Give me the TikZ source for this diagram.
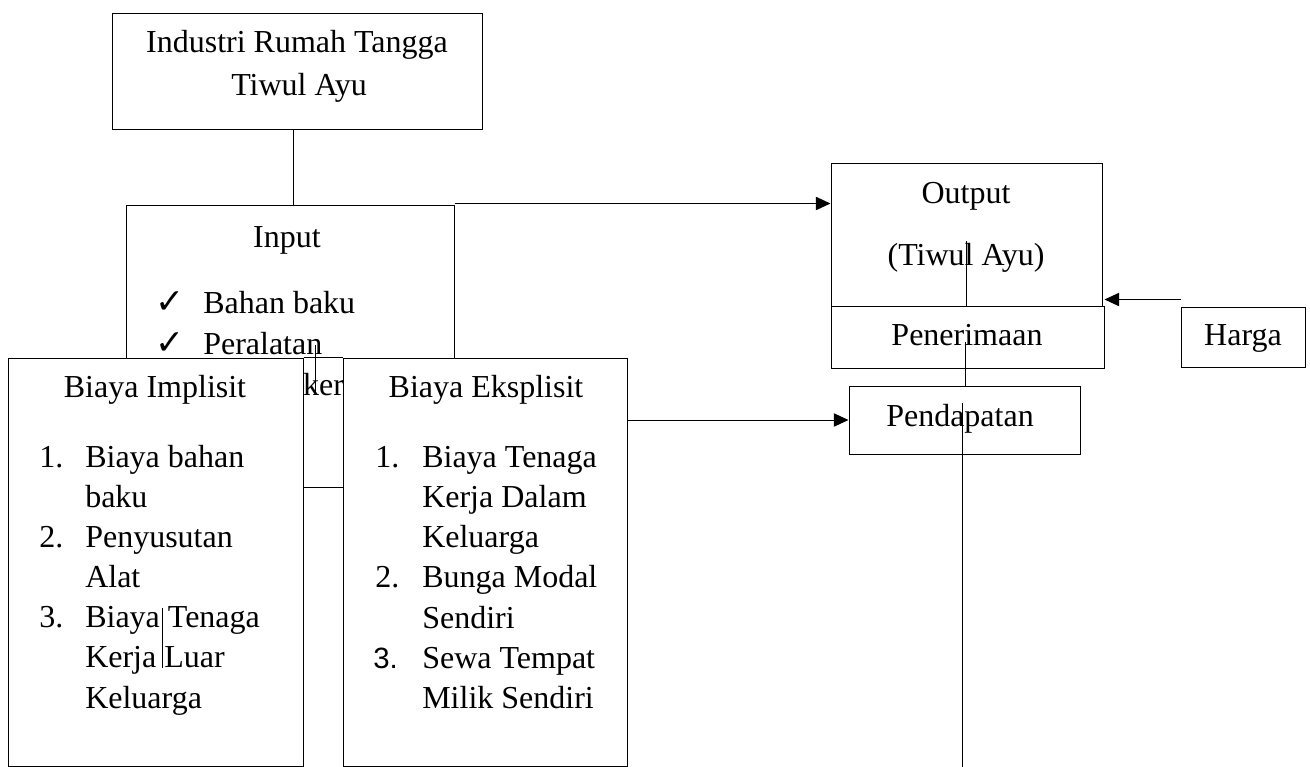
\documentclass[tikz,border=0pt]{standalone}
\usepackage{fontspec}
\setmainfont{Liberation Serif}
\newfontfamily\symfont{DejaVu Sans}
\newfontfamily\arialfont{Liberation Sans}
\usetikzlibrary{arrows.meta}
\newcommand\fs{\fontsize{24}{28}\selectfont}
\tikzset{
  pbox/.style 2 args={draw=black, line width=0.75pt, fill=white, inner sep=0pt,
     minimum width=#1*0.75pt, minimum height=#2*0.75pt},
  ln/.style={draw=black, line width=0.75pt},
  arr/.style={ln, -{Triangle[length=11pt,width=10pt]}},
  tx/.style={inner sep=0pt, font=\fs, anchor=base},
  tw/.style={inner sep=0pt, font=\fs, anchor=base west},
  ck/.style={inner sep=0pt, font=\symfont\fontsize{26}{28}\selectfont, anchor=base west},
}
\begin{document}
\begin{tikzpicture}[x=0.75pt,y=-0.75pt]
\useasboundingbox (0,0) rectangle (1310,767);

% top box
\node[pbox={370}{115}] (top) at (297,71.5) {};
\node[tx] (top1) at (297,53) {Industri Rumah Tangga};
\node[tx] (top2) at (299,95) {Tiwul Ayu};

% input box
\node[pbox={328}{282}] (input) at (290,346) {};
\node[tx] (inT) at (287,247) {Input};
\node[ck] (c1) at (155,313) {✓};
\node[ck] (c2) at (155,354) {✓};
\node[ck] (c3) at (155,395) {✓};
\node[tw] (i1) at (203,313) {Bahan baku};
\node[tw] (i2) at (203,354) {Peralatan};
\node[tw] (i3) at (203,395) {Tenaga kerja};

% output side
\node[pbox={271}{143}] (output) at (966.5,234.5) {};
\node[tx] (o1) at (966,203) {Output};
\node[tx] (o2) at (966,265) {(Tiwul Ayu)};
\node[pbox={273}{62}] (pener) at (967.5,337) {};
\node[tx] (pe) at (967,345) {Penerimaan};
\node[pbox={124}{60}] (harga) at (1243,337) {};
\node[tx] (ha) at (1243,345) {Harga};
\node[pbox={231}{68}] (pendap) at (964.5,420) {};
\node[tx] (pd) at (960,426) {Pendapatan};

% connectors
\draw[ln] ([xshift=-3pt]top.south) -- ([xshift=-3pt]top.south |- input.north);
\draw[arr] ([yshift=0.75pt]input.north east) -- ([yshift=0.75pt]input.north east -| output.west);
\draw[arr] ([yshift=5.25pt]harga.north west) -- ([yshift=5.25pt]harga.north west -| pener.east);

% stray vertical lines
\draw[ln] (966,241) -- (966,306);
\draw[ln] (965,342) -- (965,386);
\draw[ln] (962,403) -- (962,767);

% cost boxes
\node[pbox={295}{408}] (impl) at (155.5,562) {};
\node[pbox={284}{408}] (ekspl) at (485,562) {};
\draw[ln] (impl.north east) -- (ekspl.north west);
\draw[arr] (pendap.west -| ekspl.east) -- (pendap.west);
\draw[ln] (315,345) -- (315,395);

\node[tx] (imT) at (155,397) {Biaya Implisit};
\node[tw] (in1) at (39,467) {1.};
\node[tw] (in2) at (39,547) {2.};
\node[tw] (in3) at (39,627) {3.};
\node[tw] (im1) at (85,467) {Biaya bahan};
\node[tw] (im2) at (85,507) {baku};
\node[tw] (im3) at (85,547) {Penyusutan};
\node[tw] (im4) at (85,587) {Alat};
\node[tw] (im5) at (85,627) {Biaya Tenaga};
\node[tw] (im6) at (85,667) {Kerja Luar};
\node[tw] (im7) at (85,708) {Keluarga};
\draw[ln] (162,608) -- (162,668);

\node[tx] (ekT) at (486,397) {Biaya Eksplisit};
\node[tw] (en1) at (375,467) {1.};
\node[tw] (en2) at (375,587) {2.};
\node[tw, font=\arialfont\fontsize{22}{26}\selectfont] (en3) at (373,668) {3.};
\node[tw] (ek1) at (422,467) {Biaya Tenaga};
\node[tw] (ek2) at (422,507) {Kerja Dalam};
\node[tw] (ek3) at (422,547) {Keluarga};
\node[tw] (ek4) at (422,587) {Bunga Modal};
\node[tw] (ek5) at (422,628) {Sendiri};
\node[tw] (ek6) at (422,668) {Sewa Tempat};
\node[tw] (ek7) at (422,708) {Milik Sendiri};
\end{tikzpicture}
\end{document}
